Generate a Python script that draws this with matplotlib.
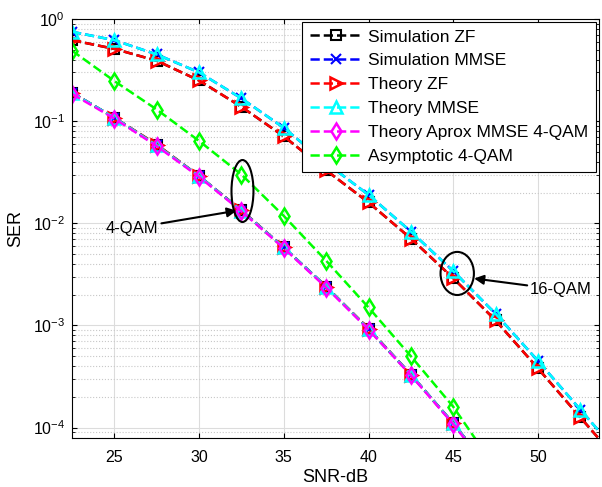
import matplotlib
matplotlib.use("Agg")
import matplotlib.pyplot as plt
from matplotlib.patches import Ellipse

plt.rcParams['font.family'] = ['Liberation Sans', 'DejaVu Sans']
plt.rcParams['mathtext.default'] = 'regular'

snr16 = [22.5, 25, 27.5, 30, 32.5, 35, 37.5, 40, 42.5, 45, 47.5, 50, 52.5, 55]
sim_zf_16 = [0.62, 0.51, 0.39, 0.25, 0.138, 0.071, 0.033, 0.016, 0.0071, 0.0029, 0.00112, 3.8e-4, 1.26e-4, 4.2e-5]
sim_mmse_16 = [0.75, 0.62, 0.45, 0.30, 0.167, 0.086, 0.039, 0.019, 0.0083, 0.0034, 0.0013, 4.5e-4, 1.5e-4, 5e-5]
th_zf_16 = [0.62, 0.51, 0.39, 0.25, 0.138, 0.071, 0.033, 0.016, 0.0071, 0.0029, 0.00112, 3.8e-4, 1.26e-4, 4.2e-5]
th_mmse_16 = [0.75, 0.62, 0.45, 0.30, 0.167, 0.086, 0.039, 0.019, 0.0083, 0.0034, 0.0013, 4.5e-4, 1.5e-4, 5e-5]

snr4 = [22.5, 25, 27.5, 30, 32.5, 35, 37.5, 40, 42.5, 45, 47.5]
sim_zf_4 = [0.19, 0.108, 0.059, 0.029, 0.0134, 0.0058, 0.0024, 9.3e-4, 3.3e-4, 1.1e-4, 3.3e-5]
sim_mmse_4 = [0.19, 0.108, 0.058, 0.029, 0.0133, 0.0058, 0.0024, 9.2e-4, 3.3e-4, 1.1e-4, 3.3e-5]
th_zf_4 = [0.19, 0.108, 0.059, 0.029, 0.0134, 0.0058, 0.0024, 9.3e-4, 3.3e-4, 1.1e-4, 3.3e-5]
th_mmse_4 = [0.19, 0.108, 0.058, 0.029, 0.0133, 0.0058, 0.0024, 9.2e-4, 3.3e-4, 1.1e-4, 3.3e-5]
approx_mmse_4 = [0.185, 0.106, 0.057, 0.0285, 0.0131, 0.0057, 0.00235, 9.1e-4, 3.25e-4, 1.08e-4, 3.2e-5]
asym_4 = [0.49, 0.247, 0.13, 0.064, 0.030, 0.0118, 0.0043, 0.0015, 5.0e-4, 1.6e-4, 4e-5]

xticks = [25, 30, 35, 40, 45, 50]

fig = plt.figure(figsize=(6.02, 4.87), dpi=100)
ax = fig.add_axes([0.1196, 0.1016, 0.8754, 0.8594])

lw = 1.8
ms = 7
ax.semilogy(snr16, sim_zf_16, '--s', color='k', mfc='none', lw=lw, ms=ms, mew=1.5, label='Simulation ZF')
ax.semilogy(snr4, sim_zf_4, '--s', color='k', mfc='none', lw=lw, ms=ms, mew=1.5)
ax.semilogy(snr16, sim_mmse_16, '--x', color='b', lw=lw, ms=ms, mew=1.5, label='Simulation MMSE')
ax.semilogy(snr4, sim_mmse_4, '--x', color='b', lw=lw, ms=ms, mew=1.5)
ax.semilogy(snr16, th_zf_16, '-->', color='#FF0000', mfc='none', lw=lw, ms=ms + 2, mew=1.8, label='Theory ZF')
ax.semilogy(snr4, th_zf_4, '-->', color='#FF0000', mfc='none', lw=lw, ms=ms + 2, mew=1.8)
ax.semilogy(snr16, th_mmse_16, '--^', color='#00FFFF', mfc='none', lw=lw, ms=ms + 2, mew=1.8, label='Theory MMSE')
ax.semilogy(snr4, th_mmse_4, '--^', color='#00FFFF', mfc='none', lw=lw, ms=ms + 2, mew=1.8)
ax.semilogy(snr4, approx_mmse_4, '--d', color='#FF00FF', mfc='none', lw=lw, ms=ms + 1, mew=1.8, label='Theory Aprox MMSE 4-QAM')
ax.semilogy(snr4, asym_4, '--d', color='#00FF00', mfc='none', lw=lw, ms=ms + 1, mew=1.8, label='Asymptotic 4-QAM')

ax.set_xlim(22.5, 53.6)
ax.set_ylim(8e-5, 1)
ax.set_xticks(xticks)
ax.grid(True, which='major', color='#dcdcdc', lw=0.8)
ax.grid(True, which='minor', color='#c8c8c8', ls=':', lw=0.8)
ax.tick_params(which='both', direction='in', top=True, right=True, labelsize=11.5)
ax.tick_params(axis='x', pad=9)
ax.tick_params(axis='y', pad=5)
for s in ax.spines.values():
    s.set_linewidth(0.8)
ax.set_xlabel('SNR-dB', fontsize=13, labelpad=3)
ax.set_ylabel('SER', fontsize=13, labelpad=6)

ax.add_patch(Ellipse((0.3235, 0.589), 0.0417, 0.148, transform=ax.transAxes, fill=False, ec='k', lw=1.5, zorder=5))
ax.add_patch(Ellipse((0.731, 0.392), 0.0633, 0.103, transform=ax.transAxes, fill=False, ec='k', lw=1.5, zorder=5))
ax.annotate('4-QAM', xy=(0.3125, 0.542), xytext=(0.0645, 0.5), textcoords='axes fraction', xycoords='axes fraction',
            fontsize=12, va='center', arrowprops=dict(arrowstyle='-|>', color='k', lw=1.5, mutation_scale=14, shrinkA=0, shrinkB=0))
ax.annotate('16-QAM', xy=(0.763, 0.380), xytext=(0.869, 0.353), textcoords='axes fraction', xycoords='axes fraction',
            fontsize=12, va='center', arrowprops=dict(arrowstyle='-|>', color='k', lw=1.5, mutation_scale=14, shrinkA=0, shrinkB=0))

leg = ax.legend(loc='upper right', fontsize=12.5, handlelength=3, handletextpad=0.35, borderpad=0.45, fancybox=False,
                framealpha=1, edgecolor='k', borderaxespad=0.15, labelspacing=0.5)
leg.get_frame().set_linewidth(0.8)

fig.savefig('out.png', dpi=100)
